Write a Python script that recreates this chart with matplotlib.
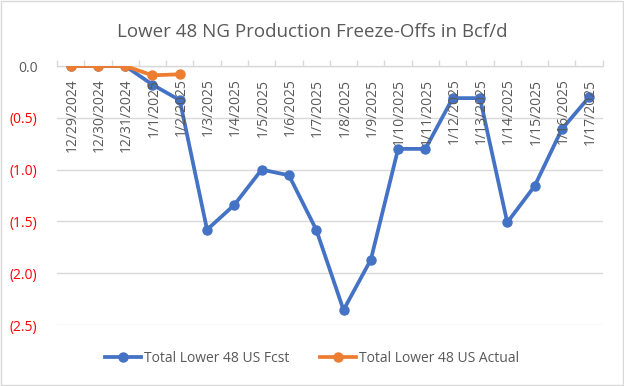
import matplotlib
matplotlib.use("Agg")
import matplotlib.pyplot as plt
import matplotlib.transforms as mtransforms
from matplotlib.patches import Rectangle
from matplotlib.ticker import FixedLocator, NullFormatter

plt.rcParams['font.family'] = ['Open Sans', 'DejaVu Sans']

categories = ["12/29/2024", "12/30/2024", "12/31/2024", "1/1/2025", "1/2/2025",
              "1/3/2025", "1/4/2025", "1/5/2025", "1/6/2025", "1/7/2025",
              "1/8/2025", "1/9/2025", "1/10/2025", "1/11/2025", "1/12/2025",
              "1/13/2025", "1/14/2025", "1/15/2025", "1/16/2025", "1/17/2025"]
fcst = [0.0, 0.0, 0.0, -0.18, -0.33, -1.58, -1.34, -1.0, -1.055, -1.58,
        -2.355, -1.87, -0.80, -0.80, -0.31, -0.31, -1.51, -1.16, -0.61, -0.30]
actual = [0.0, 0.0, 0.0, -0.09, -0.08]
yticks = [0.0, -0.5, -1.0, -1.5, -2.0, -2.5]
ytick_labels = ["0.0", "(0.5)", "(1.0)", "(1.5)", "(2.0)", "(2.5)"]

title = "Lower 48 NG Production Freeze-Offs in Bcf/d"
fcst_name = "Total Lower 48 US Fcst"
actual_name = "Total Lower 48 US Actual"

gray = "#595959"
grid = "#d9d9d9"
blue = "#4472C4"
orange = "#ED7D31"

fig = plt.figure(figsize=(6.24, 3.86), dpi=100)
fig.patches.append(Rectangle((0.0015, 0.0015), 0.997, 0.997, transform=fig.transFigure,
                             fill=False, edgecolor=grid, linewidth=1))
ax = fig.add_axes([0.0913, 0.158, 0.8747, 0.671])

x = list(range(len(categories)))
ax.plot(x, fcst, color=blue, lw=2.7, marker='o', ms=6.5, label=fcst_name, zorder=3,
        solid_joinstyle='round')
ax.plot(x[:len(actual)], actual, color=orange, lw=2.7, marker='o', ms=6.5,
        label=actual_name, zorder=4, solid_joinstyle='round')

ax.set_xlim(-0.5, len(categories) - 0.5)
ax.set_ylim(-2.5, 0.0)
ax.set_yticks(yticks)
ax.set_yticklabels(ytick_labels)
for lbl, v in zip(ax.get_yticklabels(), yticks):
    lbl.set_color(gray if v >= 0 else "red")
    lbl.set_fontsize(10)
ax.tick_params(axis='y', length=0, pad=14)
ax.yaxis.grid(True, color=grid, lw=1)
ax.set_axisbelow(True)

for s in ['left', 'right', 'bottom']:
    ax.spines[s].set_visible(False)
ax.spines['top'].set_color(grid)
ax.spines['top'].set_linewidth(1)

# category boundary ticks on the top axis line
ax.xaxis.set_ticks_position('top')
ax.xaxis.set_major_locator(FixedLocator([i - 0.5 for i in range(len(categories) + 1)]))
ax.xaxis.set_major_formatter(NullFormatter())
ax.tick_params(axis='x', direction='out', length=4, color=grid, width=1)

trans = mtransforms.blended_transform_factory(ax.transData, ax.transAxes)
for i, c in enumerate(categories):
    ax.annotate(c, xy=(i, 1.0), xycoords=trans, xytext=(1, -9), textcoords='offset points',
                rotation=90, ha='center', va='top', color=gray, fontsize=10,
                rotation_mode='default')

fig.text(0.5, 0.917, title, ha='center', va='center', color=gray, fontsize=13.5)

leg = fig.legend(loc='center', bbox_to_anchor=(0.5, 0.072), ncol=2, frameon=False,
                 fontsize=10, handlelength=2.6, columnspacing=2.2, handletextpad=0.2)
for t in leg.get_texts():
    t.set_color(gray)

fig.savefig("out.png", dpi=100)
